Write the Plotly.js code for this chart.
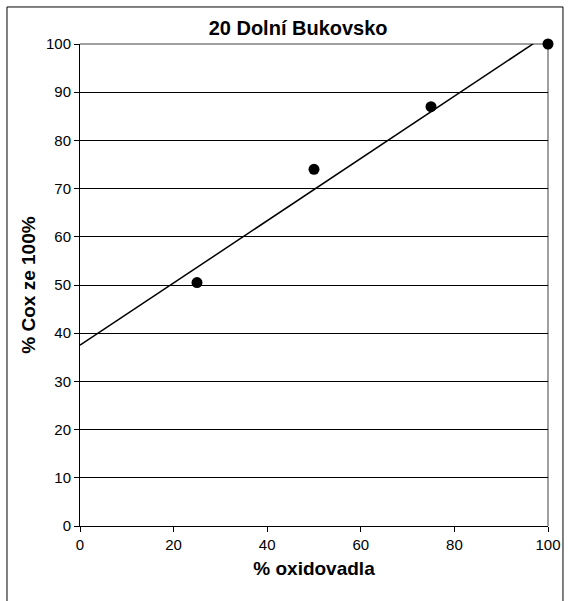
<!DOCTYPE html>
<html><head><meta charset="utf-8">
<script src="https://cdn.plot.ly/plotly-3.0.1.min.js"></script>
<style>html,body{margin:0;padding:0;background:#fff}#chart{width:570px;height:601px}</style>
</head><body><div id="chart"></div>
<script>
const chartTitle = "20 Dolní Bukovsko";
const xTitle = "% oxidovadla";
const yTitle = "% Cox ze 100%";
const oxidant = [25, 50, 75, 100];
const coxPct = [50.5, 74, 87, 100];
const xTicks = [0, 20, 40, 60, 80, 100];
const yTicks = [0, 10, 20, 30, 40, 50, 60, 70, 80, 90, 100];

// least-squares linear trend computed from the data
const n = oxidant.length;
const mx = oxidant.reduce((a,b)=>a+b,0)/n;
const my = coxPct.reduce((a,b)=>a+b,0)/n;
let sxy=0, sxx=0;
for (let i=0;i<n;i++){ sxy+=(oxidant[i]-mx)*(coxPct[i]-my); sxx+=(oxidant[i]-mx)**2; }
const slope = sxy/sxx, icpt = my - slope*mx;
const trendX = [xTicks[0], xTicks[xTicks.length-1]];
const trendY = trendX.map(x => icpt + slope*x);

const font = "Arial, 'Liberation Sans', sans-serif";
const data = [
  {x: trendX, y: trendY, mode: 'lines', type: 'scatter', line: {color: '#000', width: 1.5}, hoverinfo: 'skip'},
  {x: oxidant, y: coxPct, mode: 'markers', type: 'scatter', marker: {color: '#000', size: 11}, cliponaxis: false}
];
const layout = {
  width: 570, height: 601,
  margin: {l: 80, r: 22, t: 44, b: 75},
  paper_bgcolor: '#fff', plot_bgcolor: '#fff',
  showlegend: false,
  font: {family: font, color: '#000', size: 15},
  title: {text: '<b>' + chartTitle + '</b>', font: {size: 20, family: font, color: '#000'}, x: 0.523, xanchor: 'center', y: 0.953, yanchor: 'middle'},
  xaxis: {range: [0, 100], tickvals: xTicks, ticktext: xTicks.map(String), showgrid: false, zeroline: false,
    showline: true, linecolor: '#000', linewidth: 1, ticks: 'outside', ticklen: 5, tickcolor: '#000',
    tickfont: {size: 15}, title: {text: '<b>' + xTitle + '</b>', font: {size: 19}, standoff: 9}},
  yaxis: {range: [0, 100], tickvals: yTicks, ticktext: yTicks.map(String), showgrid: true, gridcolor: '#000', gridwidth: 1,
    zeroline: false, showline: true, linecolor: '#000', linewidth: 1, ticks: 'outside', ticklen: 5, tickcolor: '#000',
    tickfont: {size: 15}, title: {text: '<b>' + yTitle + '</b>', font: {size: 19}, standoff: 5}},
  shapes: [
    {type: 'line', xref: 'paper', yref: 'paper', x0: 0, x1: 1, y0: 1, y1: 1, line: {color: '#808080', width: 1.5}, layer: 'between'},
    {type: 'line', xref: 'paper', yref: 'paper', x0: 1, x1: 1, y0: 0, y1: 1, line: {color: '#808080', width: 1.5}, layer: 'between'},
    {type: 'rect', xref: 'paper', yref: 'paper', x0: -0.156, x1: 1.032, y0: -0.17, y1: 1.0768, line: {color: '#000', width: 1}, fillcolor: 'rgba(0,0,0,0)', layer: 'below'}
  ]
};
Plotly.newPlot('chart', data, layout, {displayModeBar: false, staticPlot: true});
</script></body></html>
